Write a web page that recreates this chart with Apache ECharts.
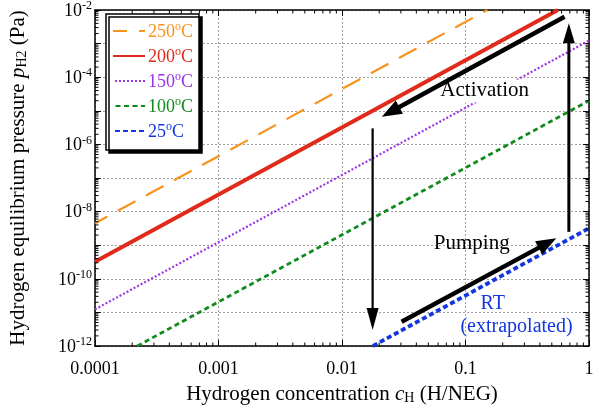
<!DOCTYPE html>
<html>
<head>
<meta charset="utf-8">
<script src="https://cdn.jsdelivr.net/npm/echarts@6/dist/echarts.min.js"></script>
<style>
  html, body { margin: 0; padding: 0; background: #ffffff; }
  #chart { width: 599px; height: 412px; }
</style>
</head>
<body>
<div id="chart"></div>
<script>
// Equilibrium H2 pressure over the NEG versus hydrogen concentration (log-log isotherms)
const seriesNames = ['250°C', '200°C', '150°C', '100°C', '25°C'];
const iso250 = [[0.0001, 4.5e-9], [0.15, 1e-2]];
const iso200 = [[0.0001, 3.2e-10], [0.56, 1e-2]];
const iso150 = [[0.0001, 1.23e-11], [1, 1.23e-3]];
const iso100 = [[0.00022, 1e-12], [1, 2.0e-5]];
const iso25  = [[0.0178, 1e-12], [1, 3.2e-9]];

// Process arrows: [c start, p start, c end, p end]
const arrowActivation = [0.634, 6.3e-3, 0.0210, 6.7e-6];
const arrowCoolDown   = [0.0177, 3.0e-6, 0.0177, 3.0e-12];
const arrowPumping    = [0.0304, 5.3e-12, 0.543, 1.6e-9];
const arrowHeatUp     = [0.687, 2.5e-9, 0.687, 4.0e-3];

// Annotation anchors: [c, p, text]
const noteActivation = [0.143, 3.9e-5, 'Activation'];
const notePumping    = [0.1123, 1.09e-9, 'Pumping'];
const noteRT         = [0.166, 1.78e-11, 'RT'];
const noteExtrap     = [0.259, 3.7e-12, '(extrapolated)'];

// Axis tick labels
const xTickLabels = { '-4': '0.0001', '-3': '0.001', '-2': '0.01', '-1': '0.1', '0': '1' };
const yLabelExponents = [-12, -10, -8, -6, -4, -2];

const SERIF = '"Liberation Serif", "DejaVu Serif", serif';
const colors = ['#f7931e', '#e02a1a', '#9b33e6', '#118a1e', '#1436e0'];
const lineStyles = [
  { width: 2.2, type: [20, 12], dashOffset: 6 },
  { width: 4, type: 'solid' },
  { width: 2.2, type: [2, 2] },
  { width: 2.8, type: [5, 3.5] },
  { width: 3.8, type: [5, 3] }
];

const arrowDefs = [
  { d: arrowActivation, w: 4.5, hl: 20, hw: 15 },
  { d: arrowCoolDown, w: 2.2, hl: 22, hw: 12 },
  { d: arrowPumping, w: 4.5, hl: 20, hw: 15 },
  { d: arrowHeatUp, w: 3, hl: 20, hw: 12 }
];

const chart = echarts.init(document.getElementById('chart'), null, { renderer: 'canvas' });

function expOf(v) { return Math.round(Math.log10(v)); }

const richY = {
  b: { fontFamily: SERIF, fontSize: 18, color: '#000', lineHeight: 20, verticalAlign: 'bottom' },
  s: { fontFamily: SERIF, fontSize: 12, color: '#000', lineHeight: 12, verticalAlign: 'top' }
};

const legendRich = {};
seriesNames.forEach((n, i) => {
  legendRich['t' + i] = { fontFamily: SERIF, fontSize: 18, color: colors[i], lineHeight: 20, verticalAlign: 'bottom' };
  legendRich['o' + i] = { fontFamily: SERIF, fontSize: 12, color: colors[i], lineHeight: 12, verticalAlign: 'top' };
});

const isoData = [iso250, iso200, iso150, iso100, iso25];
const lineSeries = seriesNames.map((name, i) => ({
  name: name,
  type: 'line',
  data: isoData[i],
  symbol: 'none',
  showSymbol: false,
  z: 3,
  lineStyle: Object.assign({ color: colors[i], cap: 'butt' }, lineStyles[i]),
  itemStyle: { color: colors[i] },
  emphasis: { disabled: true }
}));

// Minor ticks (2..9 per decade) on all four frame sides
const minorTickSeries = {
  type: 'custom',
  z: 6,
  silent: true,
  clip: false,
  data: [[0.0001, 1e-12]],
  renderItem: function (params, api) {
    const lo = api.coord([0.0001, 1e-12]);
    const hi = api.coord([1, 1e-2]);
    const children = [];
    const ln = 3.5;
    for (let e = -4; e < 0; e++) {
      for (let k = 2; k <= 9; k++) {
        const px = api.coord([k * Math.pow(10, e), 1e-12])[0];
        children.push({ type: 'line', shape: { x1: px, y1: lo[1], x2: px, y2: lo[1] - ln }, style: { stroke: '#000', lineWidth: 1 } });
        children.push({ type: 'line', shape: { x1: px, y1: hi[1], x2: px, y2: hi[1] + ln }, style: { stroke: '#000', lineWidth: 1 } });
      }
    }
    for (let e = -12; e < -2; e++) {
      for (let k = 2; k <= 9; k++) {
        const py = api.coord([0.0001, k * Math.pow(10, e)])[1];
        children.push({ type: 'line', shape: { x1: lo[0], y1: py, x2: lo[0] + ln, y2: py }, style: { stroke: '#000', lineWidth: 1 } });
        children.push({ type: 'line', shape: { x1: hi[0], y1: py, x2: hi[0] - ln, y2: py }, style: { stroke: '#000', lineWidth: 1 } });
      }
    }
    return { type: 'group', children: children };
  }
};

const arrowSeries = {
  type: 'custom',
  z: 8,
  silent: true,
  clip: false,
  data: arrowDefs.map(a => a.d),
  encode: { x: [0, 2], y: [1, 3] },
  renderItem: function (params, api) {
    const def = arrowDefs[params.dataIndex];
    const p1 = api.coord([api.value(0), api.value(1)]);
    const p2 = api.coord([api.value(2), api.value(3)]);
    const dx = p2[0] - p1[0], dy = p2[1] - p1[1];
    const len = Math.sqrt(dx * dx + dy * dy);
    const ux = dx / len, uy = dy / len;
    const nx = -uy, ny = ux;
    const bx = p2[0] - ux * def.hl, by = p2[1] - uy * def.hl;
    return {
      type: 'group',
      children: [
        { type: 'line', shape: { x1: p1[0], y1: p1[1], x2: bx + ux * 2, y2: by + uy * 2 }, style: { stroke: '#000', lineWidth: def.w, lineCap: 'butt' } },
        { type: 'polygon', shape: { points: [[p2[0], p2[1]], [bx + nx * def.hw / 2, by + ny * def.hw / 2], [bx - nx * def.hw / 2, by - ny * def.hw / 2]] }, style: { fill: '#000' } }
      ]
    };
  }
};

const notes = [noteActivation, notePumping, noteRT, noteExtrap];
const noteStyles = [
  { color: '#000', size: 21, bg: '#ffffff' },
  { color: '#000', size: 21, bg: null },
  { color: '#1436e0', size: 20, bg: null },
  { color: '#1436e0', size: 20, bg: null }
];
const noteSeries = {
  type: 'custom',
  z: 7,
  silent: true,
  clip: false,
  data: notes.map(n => [n[0], n[1]]),
  renderItem: function (params, api) {
    const i = params.dataIndex;
    const p = api.coord([api.value(0), api.value(1)]);
    const st = noteStyles[i];
    return {
      type: 'text',
      x: p[0], y: p[1],
      style: {
        text: notes[i][2],
        fill: st.color,
        font: st.size + 'px ' + SERIF,
        align: 'center',
        verticalAlign: 'middle',
        backgroundColor: st.bg || 'transparent',
        padding: st.bg ? [1, 3, 1, 3] : 0
      }
    };
  }
};

const option = {
  backgroundColor: '#ffffff',
  animation: false,
  grid: { left: 95, right: 10, top: 10, bottom: 66, containLabel: false, outerBoundsMode: 'none' },
  legend: {
    left: 106, top: 14,
    orient: 'vertical',
    data: seriesNames,
    itemWidth: 32, itemHeight: 12,
    itemGap: 5,
    padding: [7, 6, 9, 6],
    backgroundColor: '#ffffff',
    borderColor: '#000', borderWidth: 1.5, borderRadius: 0,
    shadowColor: '#000', shadowBlur: 0, shadowOffsetX: 3, shadowOffsetY: 3,
    selectedMode: false,
    itemStyle: { opacity: 0 },
    formatter: function (name) {
      const i = seriesNames.indexOf(name);
      const num = name.replace('°C', '');
      return '{t' + i + '|' + num + '}{o' + i + '|o}{t' + i + '|C}';
    },
    textStyle: { fontFamily: SERIF, fontSize: 18, rich: legendRich, padding: [0, 0, 0, -2] }
  },
  xAxis: [
    {
      type: 'log', logBase: 10, min: 0.0001, max: 1, interval: 1,
      name: '{n|Hydrogen concentration }{i|c}{sub|H}{n| (H/NEG)}',
      nameLocation: 'middle', nameGap: 38,
      nameTextStyle: {
        rich: {
          n: { fontFamily: SERIF, fontSize: 21, color: '#000' },
          i: { fontFamily: SERIF, fontSize: 21, fontStyle: 'italic', color: '#000' },
          sub: { fontFamily: SERIF, fontSize: 14, color: '#000', verticalAlign: 'bottom', lineHeight: 14, padding: [8, 0, 0, 0] }
        }
      },
      axisLine: { show: true, onZero: false, lineStyle: { color: '#000', width: 1.5 } },
      axisTick: { show: true, inside: true, length: 6, lineStyle: { color: '#000', width: 1 } },
      axisLabel: {
        margin: 14,
        fontFamily: SERIF, fontSize: 18, color: '#000',
        formatter: v => xTickLabels[String(expOf(v))] || ''
      },
      splitLine: { show: true, lineStyle: { color: '#a0a0a0', width: 1, type: [2, 2] } }
    },
    {
      type: 'log', logBase: 10, min: 0.0001, max: 1, interval: 1, position: 'top',
      axisLine: { show: true, onZero: false, lineStyle: { color: '#000', width: 1.5 } },
      axisTick: { show: true, inside: true, length: 6, lineStyle: { color: '#000', width: 1 } },
      axisLabel: { show: false },
      splitLine: { show: false }
    }
  ],
  yAxis: [
    {
      type: 'log', logBase: 10, min: 1e-12, max: 1e-2, interval: 1,
      name: '{n|Hydrogen equilibrium pressure }{i|p}{sub|H2}{n| (Pa)}',
      nameLocation: 'middle', nameGap: 66, nameRotate: 90,
      nameTextStyle: {
        rich: {
          n: { fontFamily: SERIF, fontSize: 21, color: '#000' },
          i: { fontFamily: SERIF, fontSize: 21, fontStyle: 'italic', color: '#000' },
          sub: { fontFamily: SERIF, fontSize: 14, color: '#000', verticalAlign: 'bottom', lineHeight: 14, padding: [8, 0, 0, 0] }
        }
      },
      axisLine: { show: true, onZero: false, lineStyle: { color: '#000', width: 1.5 } },
      axisTick: { show: true, inside: true, length: 6, lineStyle: { color: '#000', width: 1 } },
      axisLabel: {
        margin: 3,
        formatter: function (v) {
          const e = expOf(v);
          return yLabelExponents.indexOf(e) >= 0 ? '{b|10}{s|' + e + '}' : '';
        },
        rich: richY
      },
      splitLine: { show: true, lineStyle: { color: '#a0a0a0', width: 1, type: [2, 2] } }
    },
    {
      type: 'log', logBase: 10, min: 1e-12, max: 1e-2, interval: 1, position: 'right',
      axisLine: { show: true, onZero: false, lineStyle: { color: '#000', width: 1.5 } },
      axisTick: { show: true, inside: true, length: 6, lineStyle: { color: '#000', width: 1 } },
      axisLabel: { show: false },
      splitLine: { show: false }
    }
  ],
  series: lineSeries.concat([minorTickSeries, arrowSeries, noteSeries])
};

chart.setOption(option);
</script>
</body>
</html>
